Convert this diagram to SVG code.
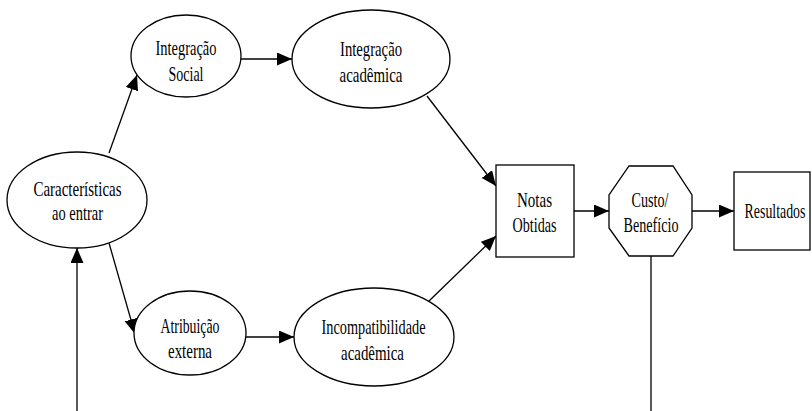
<svg xmlns="http://www.w3.org/2000/svg" width="812" height="411" viewBox="0 0 812 411">
<defs>
<marker id="ah" markerUnits="userSpaceOnUse" markerWidth="16" markerHeight="14" refX="15" refY="6.5" orient="auto">
<path d="M0,0 L15,6.5 L0,13 z" fill="#000"/>
</marker>
<style>
.n{fill:#fff;stroke:#000;stroke-width:1.3}
.t{font-family:'Liberation Serif',serif;font-size:22px;text-anchor:middle;fill:#000}
.e{stroke:#000;stroke-width:1.3;fill:none}
.a{marker-end:url(#ah)}
</style>
</defs>
<rect width="812" height="411" fill="#fff"/>
<g id="connectors">
<line class="e a" x1="109" y1="153" x2="137" y2="75"/>
<line class="e a" x1="241" y1="59" x2="292" y2="59"/>
<line class="e a" x1="427" y1="96" x2="496" y2="186"/>
<line class="e a" x1="428" y1="302" x2="496" y2="236"/>
<line class="e a" x1="109" y1="243" x2="135" y2="334"/>
<line class="e a" x1="246" y1="337" x2="294" y2="337"/>
<line class="e a" x1="574" y1="211" x2="609" y2="211"/>
<line class="e a" x1="692" y1="211" x2="734" y2="211"/>
<line class="e a" x1="77" y1="411" x2="77" y2="248"/>
<line class="e" x1="651" y1="256" x2="651" y2="411"/>
</g>
<g id="integracao-social">
<ellipse class="n" cx="186" cy="56" rx="55" ry="41"/>
<text class="t" x="186" y="55" textLength="61" lengthAdjust="spacingAndGlyphs">Integração</text>
<text class="t" x="186" y="81" textLength="35" lengthAdjust="spacingAndGlyphs">Social</text>
</g>
<g id="integracao-academica">
<ellipse class="n" cx="371" cy="59" rx="79" ry="49"/>
<text class="t" x="371" y="56" textLength="62" lengthAdjust="spacingAndGlyphs">Integração</text>
<text class="t" x="371" y="82" textLength="63" lengthAdjust="spacingAndGlyphs">acadêmica</text>
</g>
<g id="caracteristicas">
<ellipse class="n" cx="77" cy="200" rx="70" ry="48"/>
<text class="t" x="77.5" y="196" textLength="88" lengthAdjust="spacingAndGlyphs">Características</text>
<text class="t" x="77.5" y="220" textLength="51" lengthAdjust="spacingAndGlyphs">ao entrar</text>
</g>
<g id="atribuicao-externa">
<ellipse class="n" cx="190" cy="333" rx="56" ry="42"/>
<text class="t" x="190" y="333" textLength="59" lengthAdjust="spacingAndGlyphs">Atribuição</text>
<text class="t" x="190" y="358" textLength="44" lengthAdjust="spacingAndGlyphs">externa</text>
</g>
<g id="incompatibilidade">
<ellipse class="n" cx="374" cy="337" rx="80" ry="49"/>
<text class="t" x="373.5" y="334" textLength="104" lengthAdjust="spacingAndGlyphs">Incompatibilidade</text>
<text class="t" x="372.5" y="360" textLength="63" lengthAdjust="spacingAndGlyphs">acadêmica</text>
</g>
<g id="notas-obtidas">
<rect class="n" x="496" y="165" width="78" height="92"/>
<text class="t" x="534.5" y="207" textLength="35" lengthAdjust="spacingAndGlyphs">Notas</text>
<text class="t" x="534.5" y="232" textLength="44" lengthAdjust="spacingAndGlyphs">Obtidas</text>
</g>
<g id="custo-beneficio">
<polygon class="n" points="629,166 673,166 692,195 692,228 673,256 629,256 609,228 609,195"/>
<text class="t" x="650" y="207" textLength="37" lengthAdjust="spacingAndGlyphs">Custo/</text>
<text class="t" x="651" y="232" textLength="55" lengthAdjust="spacingAndGlyphs">Benefício</text>
</g>
<g id="resultados">
<rect class="n" x="734" y="172" width="76" height="78"/>
<text class="t" transform="translate(775,218) scale(0.63,1)">Resultados</text>
</g>
</svg>
